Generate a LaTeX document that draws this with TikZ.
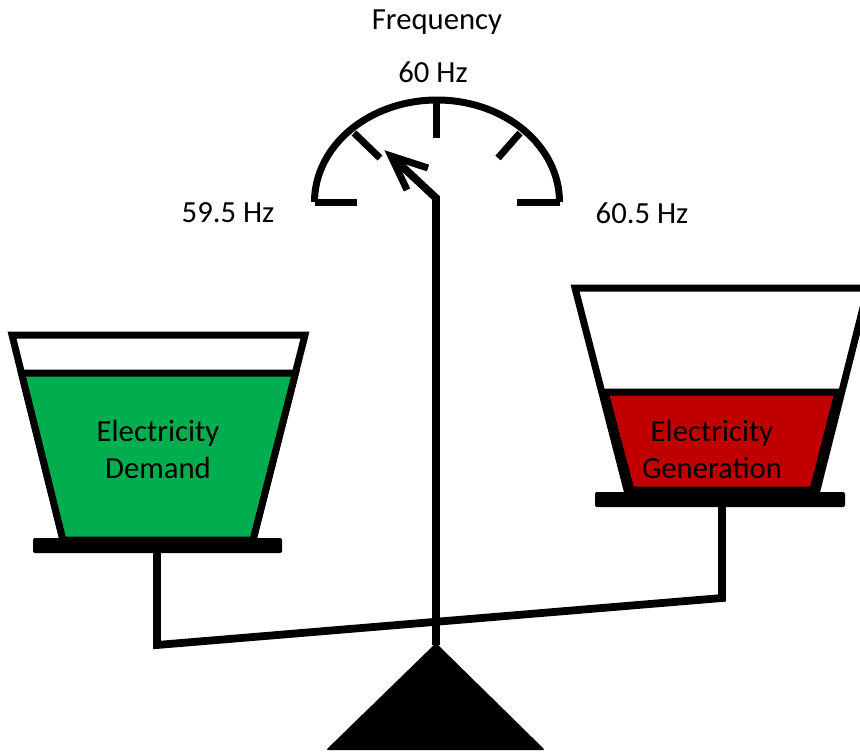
\documentclass[tikz,border=0pt]{standalone}
\usepackage{fontspec}
\setmainfont{Carlito}
\definecolor{demandgreen}{HTML}{00AD4F}
\definecolor{genred}{HTML}{C00000}
\begin{document}
\begin{tikzpicture}[x=1pt,y=-1pt,
  thick line/.style={line width=7pt},
  heavy line/.style={line width=7.8pt},
  label text/.style={font=\fontsize{30.7}{37}\selectfont, align=center, inner sep=0pt},
  bucket/.style={thick line, fill=white, line join=miter},
  water/.style={thick line, line join=miter},
  plate/.style={fill=black, rounded corners=2pt}]
\useasboundingbox (0,0) rectangle (860,753);

% gauge dial
\draw[thick line] (315,202) -- (357,202);
\draw[thick line] (517,202) -- (560,202);
\draw[thick line] (314.5,202) arc[start angle=180, end angle=360, x radius=122.5, y radius=102];
\draw[thick line] (436,100) -- (436,138);
\draw[thick line] (354,133) -- (380,158);
\draw[thick line] (520,133) -- (498,158);

% labels
\node[label text] (freq) at (437,22) {Frequency};
\node[label text] (mid) at (433,72) {60 Hz};
\node[label text] (low) at (228,213) {59.5 Hz};
\node[label text] (high) at (642,213) {60.5 Hz};

% base triangle
\fill[rounded corners=2pt] (436,643) -- (545,750) -- (326,750) -- cycle;

% stem with pointer
\coordinate (pivot) at (436,645);
\coordinate (bend) at (436,198);
\coordinate (tip) at (391,156);
\draw[heavy line, line join=miter] (pivot) -- (bend) -- (tip);
\draw[thick line, line join=miter] (428,168) -- (tip) -- (407,190);

% beam and hangers
\draw[heavy line, line join=miter] (157,550) -- (157,645) -- (722,598) -- (722,504);

% left bucket: demand
\draw[bucket] (12,335) -- (305,335) -- (253,540) -- (63,540) -- cycle;
\draw[water, fill=demandgreen] (21.5,373) -- (295.5,373) -- (253,540) -- (63,540) -- cycle;
\fill[plate] (33,538) rectangle (282,553);
\node[label text] (demand) at (158,449) {Electricity\\Demand};

% right bucket: generation
\draw[bucket] (575,288) -- (868,288) -- (817,490) -- (627,490) -- cycle;
\draw[water, fill=genred] (605,392) -- (838,392) -- (813,490) -- (631,490) -- cycle;
\fill[plate] (595,492) rectangle (845,507);
\node[label text] (gen) at (712,449) {Electricity\\Generation};
\end{tikzpicture}
\end{document}
